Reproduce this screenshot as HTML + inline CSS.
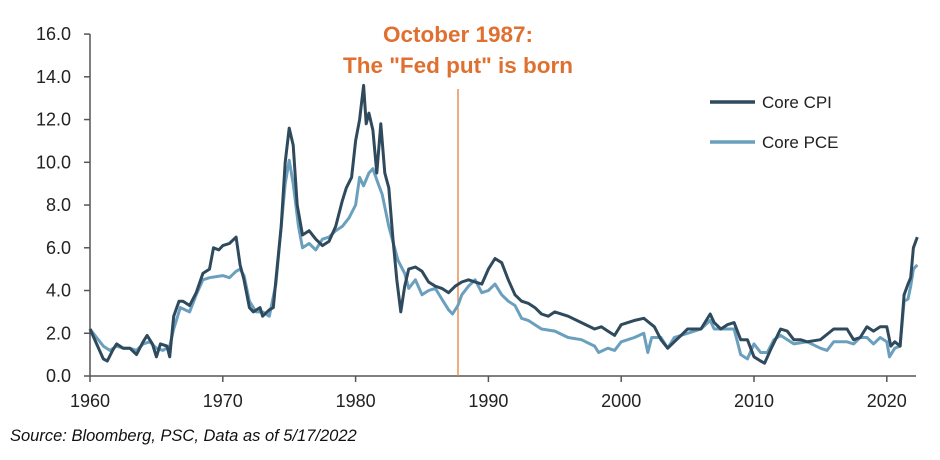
<!DOCTYPE html><html><head><style>body{margin:0;background:#fff}svg{display:block;font-family:"Liberation Sans",sans-serif}</style></head><body>
<svg id="s" width="940" height="460" viewBox="0 0 940 460">
<g stroke="#555" stroke-width="1.5" fill="none">
<line x1="90" y1="34" x2="90" y2="376"/><line x1="90" y1="376" x2="916" y2="376"/>
</g>
<g id="ticks" stroke="#555" stroke-width="1.5"></g>
<g font-size="18" fill="#222" text-anchor="end" id="yl"></g>
<g font-size="18" fill="#222" text-anchor="middle" id="xl"></g>
<line x1="458" y1="89" x2="458" y2="376" stroke="#E8803A" stroke-width="1.3"/>
<text x="458" y="42" font-size="22.5" font-weight="bold" fill="#E07030" text-anchor="middle">October 1987:</text>
<text x="458" y="73" font-size="22.5" font-weight="bold" fill="#E07030" text-anchor="middle">The "Fed put" is born</text>
<polyline id="pce" fill="none" stroke="#6A9FBD" stroke-width="3" stroke-linejoin="round"/>
<polyline id="cpi" fill="none" stroke="#2E4A5C" stroke-width="3" stroke-linejoin="round"/>
<line x1="710" y1="102" x2="755" y2="102" stroke="#2E4A5C" stroke-width="3.5"/>
<text x="762" y="108" font-size="17" fill="#222">Core CPI</text>
<line x1="710" y1="142" x2="755" y2="142" stroke="#6A9FBD" stroke-width="3.5"/>
<text x="762" y="148" font-size="17" fill="#222">Core PCE</text>
<text x="10" y="441" font-size="16.5" font-style="italic" fill="#111">Source: Bloomberg, PSC, Data as of 5/17/2022</text>
</svg>
<script>
var X=y=>90+(y-1960)*13.28,Y=v=>376-v*21.37,ns="http://www.w3.org/2000/svg";
var t=document.getElementById('ticks'),yl=document.getElementById('yl'),xl=document.getElementById('xl');
for(var v=0;v<=16;v+=2){var l=document.createElementNS(ns,'line');l.setAttribute('x1',84);l.setAttribute('x2',90);l.setAttribute('y1',Y(v));l.setAttribute('y2',Y(v));t.appendChild(l);
var tx=document.createElementNS(ns,'text');tx.setAttribute('x',71);tx.setAttribute('y',Y(v)+6);tx.textContent=v.toFixed(1);yl.appendChild(tx);}
for(var yr=1960;yr<=2020;yr+=10){var l=document.createElementNS(ns,'line');l.setAttribute('x1',X(yr));l.setAttribute('x2',X(yr));l.setAttribute('y1',376);l.setAttribute('y2',382);t.appendChild(l);
var tx=document.createElementNS(ns,'text');tx.setAttribute('x',X(yr));tx.setAttribute('y',407);tx.textContent=yr;xl.appendChild(tx);}
var cpi=[1960,2.2,1960.5,1.5,1961,0.8,1961.3,0.7,1961.7,1.2,1962,1.5,1962.5,1.3,1963,1.3,1963.5,1.0,1964,1.6,1964.3,1.9,1964.7,1.5,1965,0.9,1965.3,1.5,1965.8,1.4,1966,0.9,1966.3,2.8,1966.7,3.5,1967,3.5,1967.5,3.3,1968,3.9,1968.5,4.8,1969,5.0,1969.3,6.0,1969.7,5.9,1970,6.1,1970.5,6.2,1971,6.5,1971.3,5.2,1971.6,4.5,1972,3.2,1972.3,3.0,1972.8,3.2,1973,2.8,1973.5,3.1,1973.8,3.2,1974,4.5,1974.4,7.0,1974.7,10.0,1975,11.6,1975.3,10.8,1975.6,8.0,1976,6.6,1976.5,6.8,1977,6.4,1977.5,6.1,1978,6.3,1978.5,7.0,1979,8.2,1979.3,8.8,1979.7,9.3,1980,11.0,1980.3,12.0,1980.6,13.6,1980.8,11.8,1981,12.3,1981.3,11.5,1981.6,9.5,1981.9,11.8,1982.2,9.5,1982.5,8.8,1982.8,6.5,1983.1,4.5,1983.4,3.0,1983.7,4.2,1984,5.0,1984.5,5.1,1985,4.9,1985.5,4.4,1986,4.2,1986.5,4.1,1987,3.9,1987.5,4.2,1988,4.4,1988.5,4.5,1989,4.4,1989.5,4.3,1990,5.0,1990.5,5.5,1991,5.3,1991.5,4.5,1992,3.8,1992.5,3.5,1993,3.4,1993.5,3.2,1994,2.9,1994.5,2.8,1995,3.0,1996,2.8,1997,2.5,1998,2.2,1998.5,2.3,1999,2.1,1999.5,1.9,2000,2.4,2001,2.6,2001.7,2.7,2002.5,2.3,2003,1.7,2003.5,1.3,2004,1.6,2004.5,1.9,2005,2.2,2006,2.2,2006.7,2.9,2007,2.5,2007.5,2.2,2008,2.4,2008.5,2.5,2009,1.7,2009.5,1.7,2010,0.9,2010.5,0.7,2010.8,0.6,2011.3,1.3,2012,2.2,2012.5,2.1,2013,1.7,2013.5,1.7,2014,1.6,2015,1.7,2016,2.2,2017,2.2,2017.5,1.7,2018,1.8,2018.5,2.3,2019,2.1,2019.5,2.3,2020,2.3,2020.3,1.4,2020.6,1.6,2021,1.4,2021.3,3.8,2021.6,4.3,2021.8,4.6,2022,6.0,2022.3,6.5];
var pce=[1960,2.2,1960.5,1.8,1961,1.4,1961.5,1.2,1962,1.4,1962.5,1.3,1963,1.3,1963.5,1.2,1964,1.5,1964.5,1.6,1965,1.3,1965.5,1.2,1966,1.4,1966.3,2.2,1966.8,3.2,1967.5,3.0,1968,3.8,1968.5,4.5,1969,4.6,1970,4.7,1970.5,4.6,1971,4.9,1971.3,5.0,1971.6,4.7,1972,3.5,1972.5,3.0,1973,3.0,1973.5,2.8,1974,4.3,1974.4,7.0,1974.7,9.0,1975,10.1,1975.3,9.0,1975.7,7.0,1976,6.0,1976.5,6.2,1977,5.9,1977.5,6.4,1978,6.5,1978.5,6.8,1979,7.0,1979.5,7.4,1980,8.0,1980.3,9.3,1980.6,8.9,1981,9.5,1981.3,9.7,1981.7,9.0,1982,8.5,1982.5,7.0,1982.8,6.3,1983.2,5.4,1983.7,4.8,1984,4.1,1984.5,4.5,1985,3.8,1985.5,4.0,1986,4.1,1986.5,3.6,1987,3.1,1987.3,2.9,1987.7,3.3,1988,3.8,1988.5,4.2,1989,4.5,1989.5,3.9,1990,4.0,1990.5,4.3,1991,3.8,1991.5,3.5,1992,3.3,1992.5,2.7,1993,2.6,1994,2.2,1995,2.1,1996,1.8,1997,1.7,1998,1.4,1998.3,1.1,1999,1.3,1999.5,1.2,2000,1.6,2001,1.8,2001.7,2.0,2002,1.1,2002.3,1.8,2003,1.8,2003.5,1.3,2004,1.8,2005,2.0,2006,2.2,2006.7,2.6,2007,2.2,2008,2.2,2008.5,2.2,2009,1.0,2009.5,0.8,2010,1.5,2010.5,1.1,2011,1.1,2011.5,1.7,2012,1.9,2013,1.5,2014,1.6,2015,1.3,2015.5,1.2,2016,1.6,2017,1.6,2017.5,1.5,2018,1.8,2018.5,1.8,2019,1.5,2019.5,1.8,2020,1.6,2020.2,0.9,2020.6,1.3,2021,1.4,2021.3,3.5,2021.6,3.6,2021.8,4.2,2022,5.0,2022.3,5.2];
function pts(a){var s=[];for(var i=0;i<a.length;i+=2)s.push(X(a[i]).toFixed(1)+','+Y(a[i+1]).toFixed(1));return s.join(' ');}
document.getElementById('cpi').setAttribute('points',pts(cpi));
document.getElementById('pce').setAttribute('points',pts(pce));
</script>
</body></html>
